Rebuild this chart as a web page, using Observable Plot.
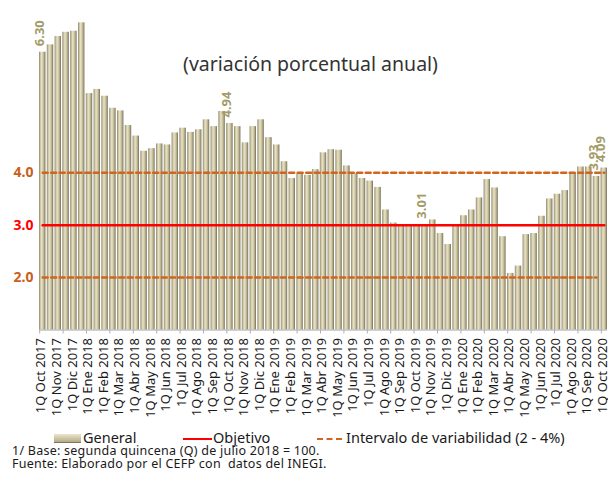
<!DOCTYPE html>
<html><head><meta charset="utf-8">
<script src="https://cdn.jsdelivr.net/npm/d3@7"></script>
<script src="https://cdn.jsdelivr.net/npm/@observablehq/plot@0.6"></script>
<style>
body{margin:0;background:#fff;font-family:"Noto Sans",sans-serif;}
#chart{position:relative;width:608px;height:477px;}
.lg{position:absolute;font-size:14.5px;color:#1a1a1a;line-height:13px;white-space:nowrap;}
.note{position:absolute;left:12px;font-size:12.5px;letter-spacing:0.25px;color:#1a1a1a;white-space:nowrap;line-height:13px;}
</style></head><body><div id="chart"></div>
<script>
const tickLabels = [
 "1Q Oct 2017","1Q Nov 2017","1Q Dic 2017","1Q Ene 2018","1Q Feb 2018","1Q Mar 2018","1Q Abr 2018",
 "1Q May 2018","1Q Jun 2018","1Q Jul 2018","1Q Ago 2018","1Q Sep 2018","1Q Oct 2018","1Q Nov 2018",
 "1Q Dic 2018","1Q Ene 2019","1Q Feb 2019","1Q Mar 2019","1Q Abr 2019","1Q May 2019","1Q Jun 2019",
 "1Q Jul 2019","1Q Ago 2019","1Q Sep 2019","1Q Oct 2019","1Q Nov 2019","1Q Dic 2019","1Q Ene 2020",
 "1Q Feb 2020","1Q Mar 2020","1Q Abr 2020","1Q May 2020","1Q Jun 2020","1Q Jul 2020","1Q Ago 2020",
 "1Q Sep 2020","1Q Oct 2020"
];
const general = [
 6.30,6.44,6.60,6.68,6.70,6.86,5.51,5.59,5.46,5.23,5.18,4.90,4.70,4.41,4.46,4.55,4.53,4.76,4.85,4.77,
 4.82,5.01,4.88,5.17,4.94,4.88,4.57,4.88,5.01,4.67,4.53,4.21,3.89,3.98,3.95,4.06,4.38,4.44,4.43,4.13,
 3.99,3.89,3.84,3.72,3.29,3.04,2.98,2.98,2.98,3.01,3.10,2.84,2.63,3.01,3.18,3.29,3.52,3.87,3.71,2.78,
 2.08,2.22,2.82,2.84,3.17,3.50,3.59,3.66,3.99,4.11,4.11,3.93,4.09
];
const objetivo = 3.0;
const limiteSuperior = 4.0;
const limiteInferior = 2.0;
const lowerLineLast = "2Q Sep 2020";
const labeledCats = ["1Q Oct 2017","1Q Oct 2018","2Q Oct 2019","2Q Sep 2020","1Q Oct 2020"];
const labeledText = ["6.30","4.94","3.01","3.93","4.09"];
const yTicks = [2.0, 3.0, 4.0];
const yTickColors = ["#c8601c","#ff0000","#c8601c"];
const titleText = "(variación porcentual anual)";

const categories = [];
tickLabels.forEach((t, i) => {
  categories.push(t);
  if (i < tickLabels.length - 1) categories.push(t.replace("1Q", "2Q"));
});
const data = categories.map((c, i) => ({cat: c, v: general[i]}));
const objData = categories.map(c => ({cat: c, v: objetivo}));
const upData = categories.map(c => ({cat: c, v: limiteSuperior}));
const lowData = categories.slice(0, categories.indexOf(lowerLineLast) + 1).map(c => ({cat: c, v: limiteInferior}));
const labData = labeledCats.map((c, i) => ({cat: c, v: general[categories.indexOf(c)], t: labeledText[i]}));
const every3 = categories.filter((c, i) => i % 3 === 0);

const plot = Plot.plot({
  width: 608, height: 430,
  marginLeft: 39, marginRight: 1, marginTop: 15, marginBottom: 100.5,
  x: {type: "band", domain: categories, paddingInner: 0.18, paddingOuter: 0, axis: null},
  y: {domain: [1, 7], axis: null},
  style: {fontFamily: "Noto Sans", background: "white"},
  marks: [
    Plot.barY(data, {x: "cat", y1: 1, y2: "v", fill: "url(#barGrad)"}),
    Plot.ruleY([1], {stroke: "#a6a6a6", strokeWidth: 1}),
    Plot.axisX({ticks: every3, tickSize: 4, text: null, label: null, stroke: "#b0b0b0", dx: -3}),
    Plot.axisX({ticks: tickLabels, tickSize: 0, tickRotate: -90, tickPadding: 8, label: null, fontSize: 13, fill: "#1a1a1a", dx: -1.5}),
    Plot.line(lowData, {x: "cat", y: "v", stroke: "#d0651e", strokeWidth: 2.5, strokeDasharray: "5,3.5"}),
    Plot.line(upData, {x: "cat", y: "v", stroke: "#d0651e", strokeWidth: 2.5, strokeDasharray: "5,3.5"}),
    Plot.line(objData, {x: "cat", y: "v", stroke: "#ff0000", strokeWidth: 2.5}),
    Plot.text(labData, {x: "cat", y: "v", text: "t", rotate: -90, textAnchor: "start", dy: -6, dx: -3,
      fill: "#a39c68", fontSize: 13, fontWeight: "bold"}),
    Plot.text(yTicks, {y: d => d, frameAnchor: "left", textAnchor: "end", dx: -6,
      text: d => d.toFixed(1), fill: (d, i) => yTickColors[i], fontWeight: "bold", fontSize: 14}),
    Plot.text([titleText], {frameAnchor: "top", dy: 42, dx: -13, text: d => d, fontSize: 19.5, fill: "#333"})
  ]
});

const ns = "http://www.w3.org/2000/svg";
const defs = document.createElementNS(ns, "defs");
defs.innerHTML = `<linearGradient id="barGrad" x1="0" x2="1" y1="0" y2="0">
 <stop offset="0" stop-color="#85816a"/>
 <stop offset="0.15" stop-color="#bdb694"/>
 <stop offset="0.38" stop-color="#e8e1c6"/>
 <stop offset="0.6" stop-color="#d4cca8"/>
 <stop offset="0.82" stop-color="#aaa382"/>
 <stop offset="1" stop-color="#6d6a57"/>
</linearGradient>`;
plot.insertBefore(defs, plot.firstChild);

const chart = document.getElementById("chart");
chart.appendChild(plot);
plot.style.position = "absolute"; plot.style.left = "0"; plot.style.top = "0";

function add(html, cls, left, top) {
  const d = document.createElement("div");
  d.className = cls; d.style.left = left + "px"; d.style.top = top + "px";
  d.innerHTML = html; chart.appendChild(d); return d;
}
add('<span style="display:inline-block;width:27px;height:8px;background:linear-gradient(#ece5cb,#b3ab86);border-bottom:1px solid #7a7660;vertical-align:middle;margin-right:2px"></span>General', "lg", 54, 430.5);
add('<span style="display:inline-block;width:29px;height:0;border-top:2.5px solid #ff0000;vertical-align:middle;margin-right:1px"></span>Objetivo', "lg", 183, 430.5);
add('<span style="display:inline-block;width:25px;height:0;border-top:2.5px dashed #d0651e;vertical-align:middle;margin-right:4px"></span>Intervalo de variabilidad (2 - 4%)', "lg", 317, 430.5);
add("1/ Base: segunda quincena (Q) de julio 2018 = 100.", "note", 12, 443.5);
add("Fuente: Elaborado por el CEFP con&nbsp; datos del INEGI.", "note", 12, 457);
</script></body></html>
